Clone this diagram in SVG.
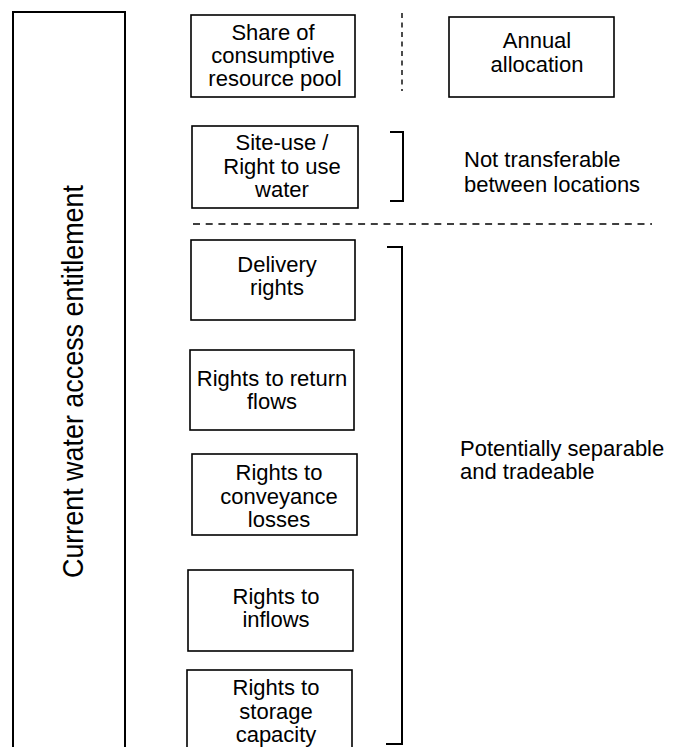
<svg xmlns="http://www.w3.org/2000/svg" width="673" height="747" viewBox="0 0 673 747">
  <style>
    .box { fill: #ffffff; stroke: #000000; stroke-width: 1.6; }
    .t { font-family: "Liberation Sans", Arial, Helvetica, sans-serif; font-size: 22px; fill: #000000; }
    .c { text-anchor: middle; }
    .dash { fill: none; stroke: #000000; stroke-width: 1.4; }
    .br { fill: none; stroke: #000000; stroke-width: 2; }
  </style>
  <rect width="673" height="747" fill="#ffffff"/>

  <g id="entitlement">
    <rect x="13" y="12" width="112" height="760" fill="none" stroke="#000000" stroke-width="2"/>
    <text class="t" text-anchor="middle" transform="translate(83,381.5) rotate(-90)" textLength="393" lengthAdjust="spacingAndGlyphs" style="font-size:30px">Current water access entitlement</text>
  </g>

  <g id="connectors">
    <line class="dash" x1="402" y1="13" x2="402" y2="91" stroke-dasharray="5,4.5"/>
    <line class="dash" x1="193" y1="224" x2="652" y2="224" stroke-dasharray="7,5.7"/>
    <path class="br" d="M390,132 H403 V201 H390"/>
    <path class="br" d="M387,247 H402 V744 H386"/>
  </g>

  <g id="share">
    <rect class="box" x="191" y="15" width="164" height="82"/>
    <text class="t c" x="273" y="40">Share of</text>
    <text class="t c" x="273" y="63">consumptive</text>
    <text class="t c" x="275" y="86">resource pool</text>
  </g>

  <g id="annual">
    <rect class="box" x="449" y="17" width="165" height="80"/>
    <text class="t c" x="537" y="48">Annual</text>
    <text class="t c" x="537" y="72">allocation</text>
  </g>

  <g id="siteuse">
    <rect class="box" x="192" y="126" width="166" height="82"/>
    <text class="t c" x="282" y="150">Site-use /</text>
    <text class="t c" x="282" y="173.5">Right to use</text>
    <text class="t c" x="282" y="197">water</text>
  </g>

  <g id="nottransferable">
    <text class="t" x="464" y="167">Not transferable</text>
    <text class="t" x="464" y="192">between locations</text>
  </g>

  <g id="delivery">
    <rect class="box" x="191" y="240" width="164" height="80"/>
    <text class="t c" x="277" y="272">Delivery</text>
    <text class="t c" x="277" y="295">rights</text>
  </g>

  <g id="returnflows">
    <rect class="box" x="190" y="350" width="164" height="80"/>
    <text class="t c" x="272" y="386">Rights to return</text>
    <text class="t c" x="272" y="409">flows</text>
  </g>

  <g id="conveyance">
    <rect class="box" x="192" y="454" width="165" height="81"/>
    <text class="t c" x="279" y="480">Rights to</text>
    <text class="t c" x="279" y="503.5">conveyance</text>
    <text class="t c" x="279" y="527">losses</text>
  </g>

  <g id="inflows">
    <rect class="box" x="188" y="570" width="165" height="81"/>
    <text class="t c" x="276" y="604">Rights to</text>
    <text class="t c" x="276" y="627">inflows</text>
  </g>

  <g id="storage">
    <rect class="box" x="187" y="670" width="165" height="90"/>
    <text class="t c" x="276" y="695">Rights to</text>
    <text class="t c" x="276" y="718.5">storage</text>
    <text class="t c" x="276" y="742">capacity</text>
  </g>

  <g id="separable">
    <text class="t" x="460" y="456">Potentially separable</text>
    <text class="t" x="460" y="479">and tradeable</text>
  </g>
</svg>
